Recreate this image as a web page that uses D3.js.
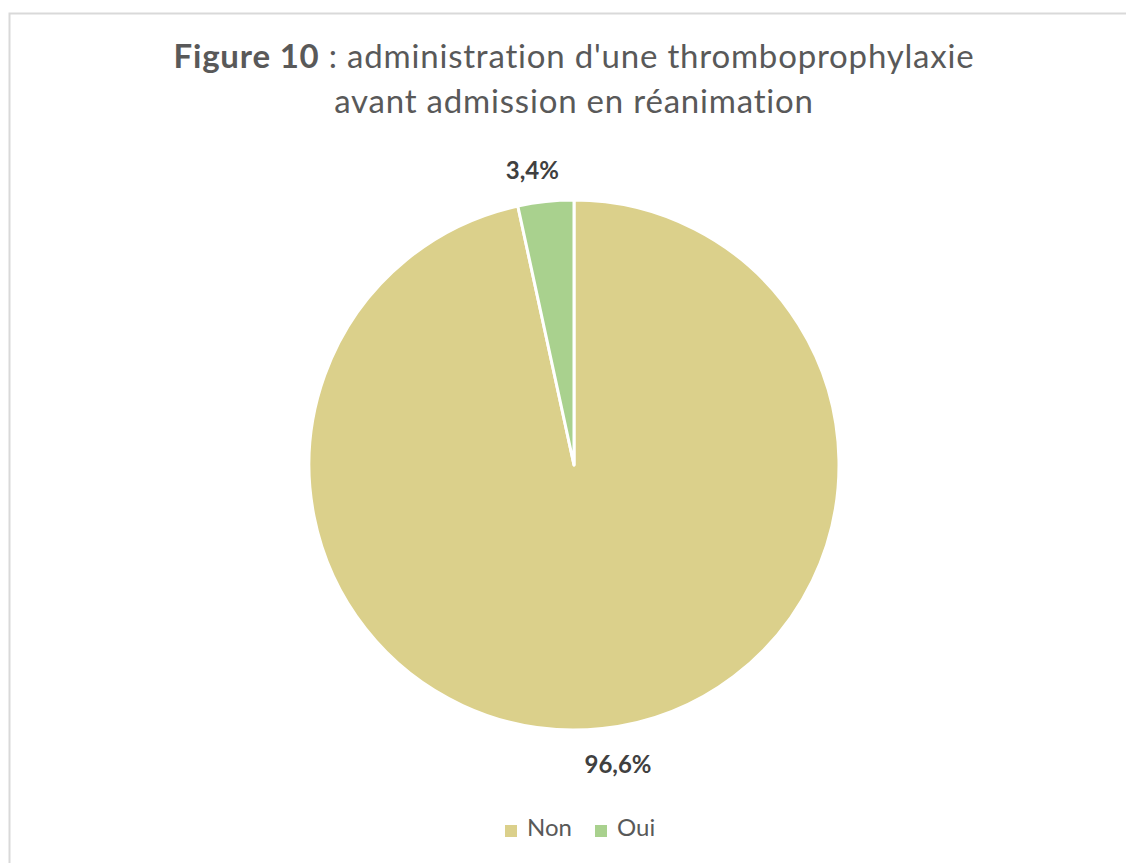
<!DOCTYPE html>
<html>
<head>
<meta charset="utf-8">
<script src="https://cdn.jsdelivr.net/npm/d3@7"></script>
<style>
  body { margin: 0; background: #fff; }
  svg { display: block; font-family: Lato, "Open Sans", sans-serif; }
</style>
</head>
<body>
<svg id="chart" width="1126" height="863"></svg>
<script>
const categories = ['Non', 'Oui'];
const values = [96.6, 3.4];
const labels = ['96,6%', '3,4%'];
const colors = ['#dbd08b', '#a9d18e'];

const svg = d3.select('#chart');
const width = 1126, height = 863;

// chart frame (right and bottom edges fall outside the picture)
svg.append('rect')
  .attr('x', 9.5).attr('y', 13.5)
  .attr('width', 1130).attr('height', 870)
  .attr('fill', '#fff')
  .attr('stroke', '#d9d9d9')
  .attr('stroke-width', 2);

// title
const title = svg.append('text')
  .attr('text-anchor', 'middle')
  .attr('fill', '#595959')
  .attr('font-size', 33)
  .attr('letter-spacing', 0.8);
const l1 = title.append('tspan').attr('x', 574).attr('y', 68);
l1.append('tspan').attr('font-weight', 'bold').text('Figure 10');
l1.append('tspan').text(" : administration d'une thromboprophylaxie");
title.append('tspan').attr('x', 574).attr('y', 113).text('avant admission en réanimation');

// pie
const cx = 574, cy = 465, r = 265;
const pie = d3.pie().sort(null).value(d => d)(values);
const arc = d3.arc().innerRadius(0).outerRadius(r);
const g = svg.append('g').attr('transform', `translate(${cx},${cy})`);

g.selectAll('path')
  .data(pie)
  .join('path')
  .attr('d', arc)
  .attr('fill', (d, i) => colors[i])
  .attr('stroke', '#fff')
  .attr('stroke-width', 3)
  .attr('stroke-linejoin', 'round');

// data labels outside the pie
const labelArc = d3.arc().innerRadius(r + 42).outerRadius(r + 42);
g.selectAll('text.lbl')
  .data(pie)
  .join('text')
  .attr('class', 'lbl')
  .attr('text-anchor', 'middle')
  .attr('font-weight', 'bold')
  .attr('font-size', 24)
  .attr('fill', '#404040')
  .attr('x', (d, i) => i === 0 ? 44 : labelArc.centroid(d)[0] - 9)
  .attr('y', (d, i) => i === 0 ? 308 : -286)
  .text((d, i) => labels[i]);

// legend
const legend = svg.append('g').attr('transform', 'translate(505,825)');
const itemX = [0, 90];
const items = legend.selectAll('g')
  .data(categories)
  .join('g')
  .attr('transform', (d, i) => `translate(${itemX[i]},0)`);
items.append('rect')
  .attr('width', 12).attr('height', 12)
  .attr('fill', (d, i) => colors[i]);
items.append('text')
  .attr('x', 22).attr('y', 11)
  .attr('font-size', 24)
  .attr('fill', '#595959')
  .text(d => d);
</script>
</body>
</html>
